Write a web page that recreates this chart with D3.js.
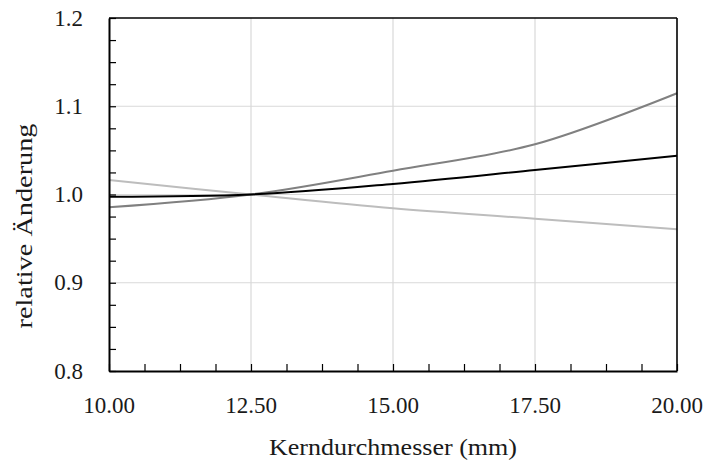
<!DOCTYPE html>
<html>
<head>
<meta charset="utf-8">
<script src="https://cdn.jsdelivr.net/npm/d3@7"></script>
<style>
  html, body { margin: 0; padding: 0; background: #fff; }
  svg { display: block; }
</style>
</head>
<body>
<svg id="chart" width="707" height="461" font-family="'Liberation Serif', 'DejaVu Serif', serif"></svg>
<script>
// Kerndurchmesser in mm
const diameters = [10, 12.5, 15, 17.5, 20];
// relative change of the three quantities, normalised at 12.5 mm
const seriesBlack = [0.9975, 1.0, 1.012, 1.0278, 1.044];
const seriesDark = [0.9855, 1.0, 1.027, 1.0569, 1.1147];
const seriesLight = [1.0164, 1.0, 0.9843, 0.9726, 0.9605];

const xTicks = [10, 12.5, 15, 17.5, 20];
const yTicks = [0.8, 0.9, 1.0, 1.1, 1.2];
const xLabel = "Kerndurchmesser (mm)";
const yLabel = "relative Änderung";

const series = [
  { values: seriesLight, color: "#bdbdbd" },
  { values: seriesDark, color: "#808080" },
  { values: seriesBlack, color: "#000000" }
];

const svg = d3.select("#chart");
const plotLeft = 109, plotRight = 677, plotTop = 18, plotBottom = 371;
const textColor = "#1a1a1a";

const x = d3.scaleLinear().domain([10, 20]).range([plotLeft, plotRight]);
const y = d3.scaleLinear().domain([0.8, 1.2]).range([plotBottom, plotTop]);

// gridlines
const grid = svg.append("g").attr("stroke", "#d9d9d9").attr("stroke-width", 1.2);
grid.selectAll("line.h").data(yTicks.slice(1, -1)).join("line")
  .attr("class", "h")
  .attr("x1", plotLeft).attr("x2", plotRight)
  .attr("y1", d => y(d)).attr("y2", d => y(d));
grid.selectAll("line.v").data(xTicks.slice(1, -1)).join("line")
  .attr("class", "v")
  .attr("x1", d => x(d)).attr("x2", d => x(d))
  .attr("y1", plotTop).attr("y2", plotBottom);

// data lines
const line = d3.line()
  .x((d, i) => x(diameters[i]))
  .y(d => y(d))
  .curve(d3.curveCatmullRom.alpha(0.5));

svg.append("g").selectAll("path").data(series).join("path")
  .attr("d", d => line(d.values))
  .attr("fill", "none")
  .attr("stroke", d => d.color)
  .attr("stroke-width", 2);

// frame: top and right border
svg.append("line").attr("x1", plotLeft).attr("x2", plotRight).attr("y1", plotTop).attr("y2", plotTop)
  .attr("stroke", "#000").attr("stroke-width", 1.6);
svg.append("line").attr("x1", plotRight).attr("x2", plotRight).attr("y1", plotTop).attr("y2", plotBottom)
  .attr("stroke", "#000").attr("stroke-width", 1.6);

// axes with inward minor ticks
const xAxis = d3.axisBottom(x)
  .tickValues(d3.range(10, 20.001, 0.625))
  .tickSizeInner(-7).tickSizeOuter(0).tickFormat("");
const gx = svg.append("g").attr("transform", `translate(0,${plotBottom})`).call(xAxis);
gx.select(".domain").attr("stroke", "#000").attr("stroke-width", 2);
gx.selectAll(".tick line").attr("stroke", "#000").attr("stroke-width", 1.2);

const yAxis = d3.axisLeft(y)
  .tickValues(d3.range(0.8, 1.2001, 0.025))
  .tickSizeInner(-7).tickSizeOuter(0).tickFormat("");
const gy = svg.append("g").attr("transform", `translate(${plotLeft},0)`).call(yAxis);
gy.select(".domain").attr("stroke", "#000").attr("stroke-width", 2);
gy.selectAll(".tick line").attr("stroke", "#000").attr("stroke-width", 1.2);

// tick labels
svg.append("g").selectAll("text").data(xTicks).join("text")
  .attr("x", d => x(d)).attr("y", 413)
  .attr("text-anchor", "middle")
  .attr("font-size", 23)
  .attr("fill", textColor)
  .text(d => d3.format(".2f")(d));

svg.append("g").selectAll("text").data(yTicks).join("text")
  .attr("x", 83).attr("y", d => y(d) + 7.5)
  .attr("text-anchor", "end")
  .attr("font-size", 23)
  .attr("fill", textColor)
  .text(d => d3.format(".1f")(d));

// axis titles
svg.append("text")
  .attr("x", (plotLeft + plotRight) / 2).attr("y", 455)
  .attr("text-anchor", "middle")
  .attr("font-size", 23)
  .attr("fill", textColor)
  .attr("textLength", 248)
  .attr("lengthAdjust", "spacingAndGlyphs")
  .text(xLabel);

svg.append("text")
  .attr("transform", "translate(32,226) rotate(-90)")
  .attr("text-anchor", "middle")
  .attr("font-size", 23)
  .attr("fill", textColor)
  .attr("textLength", 205)
  .attr("lengthAdjust", "spacingAndGlyphs")
  .text(yLabel);
</script>
</body>
</html>
